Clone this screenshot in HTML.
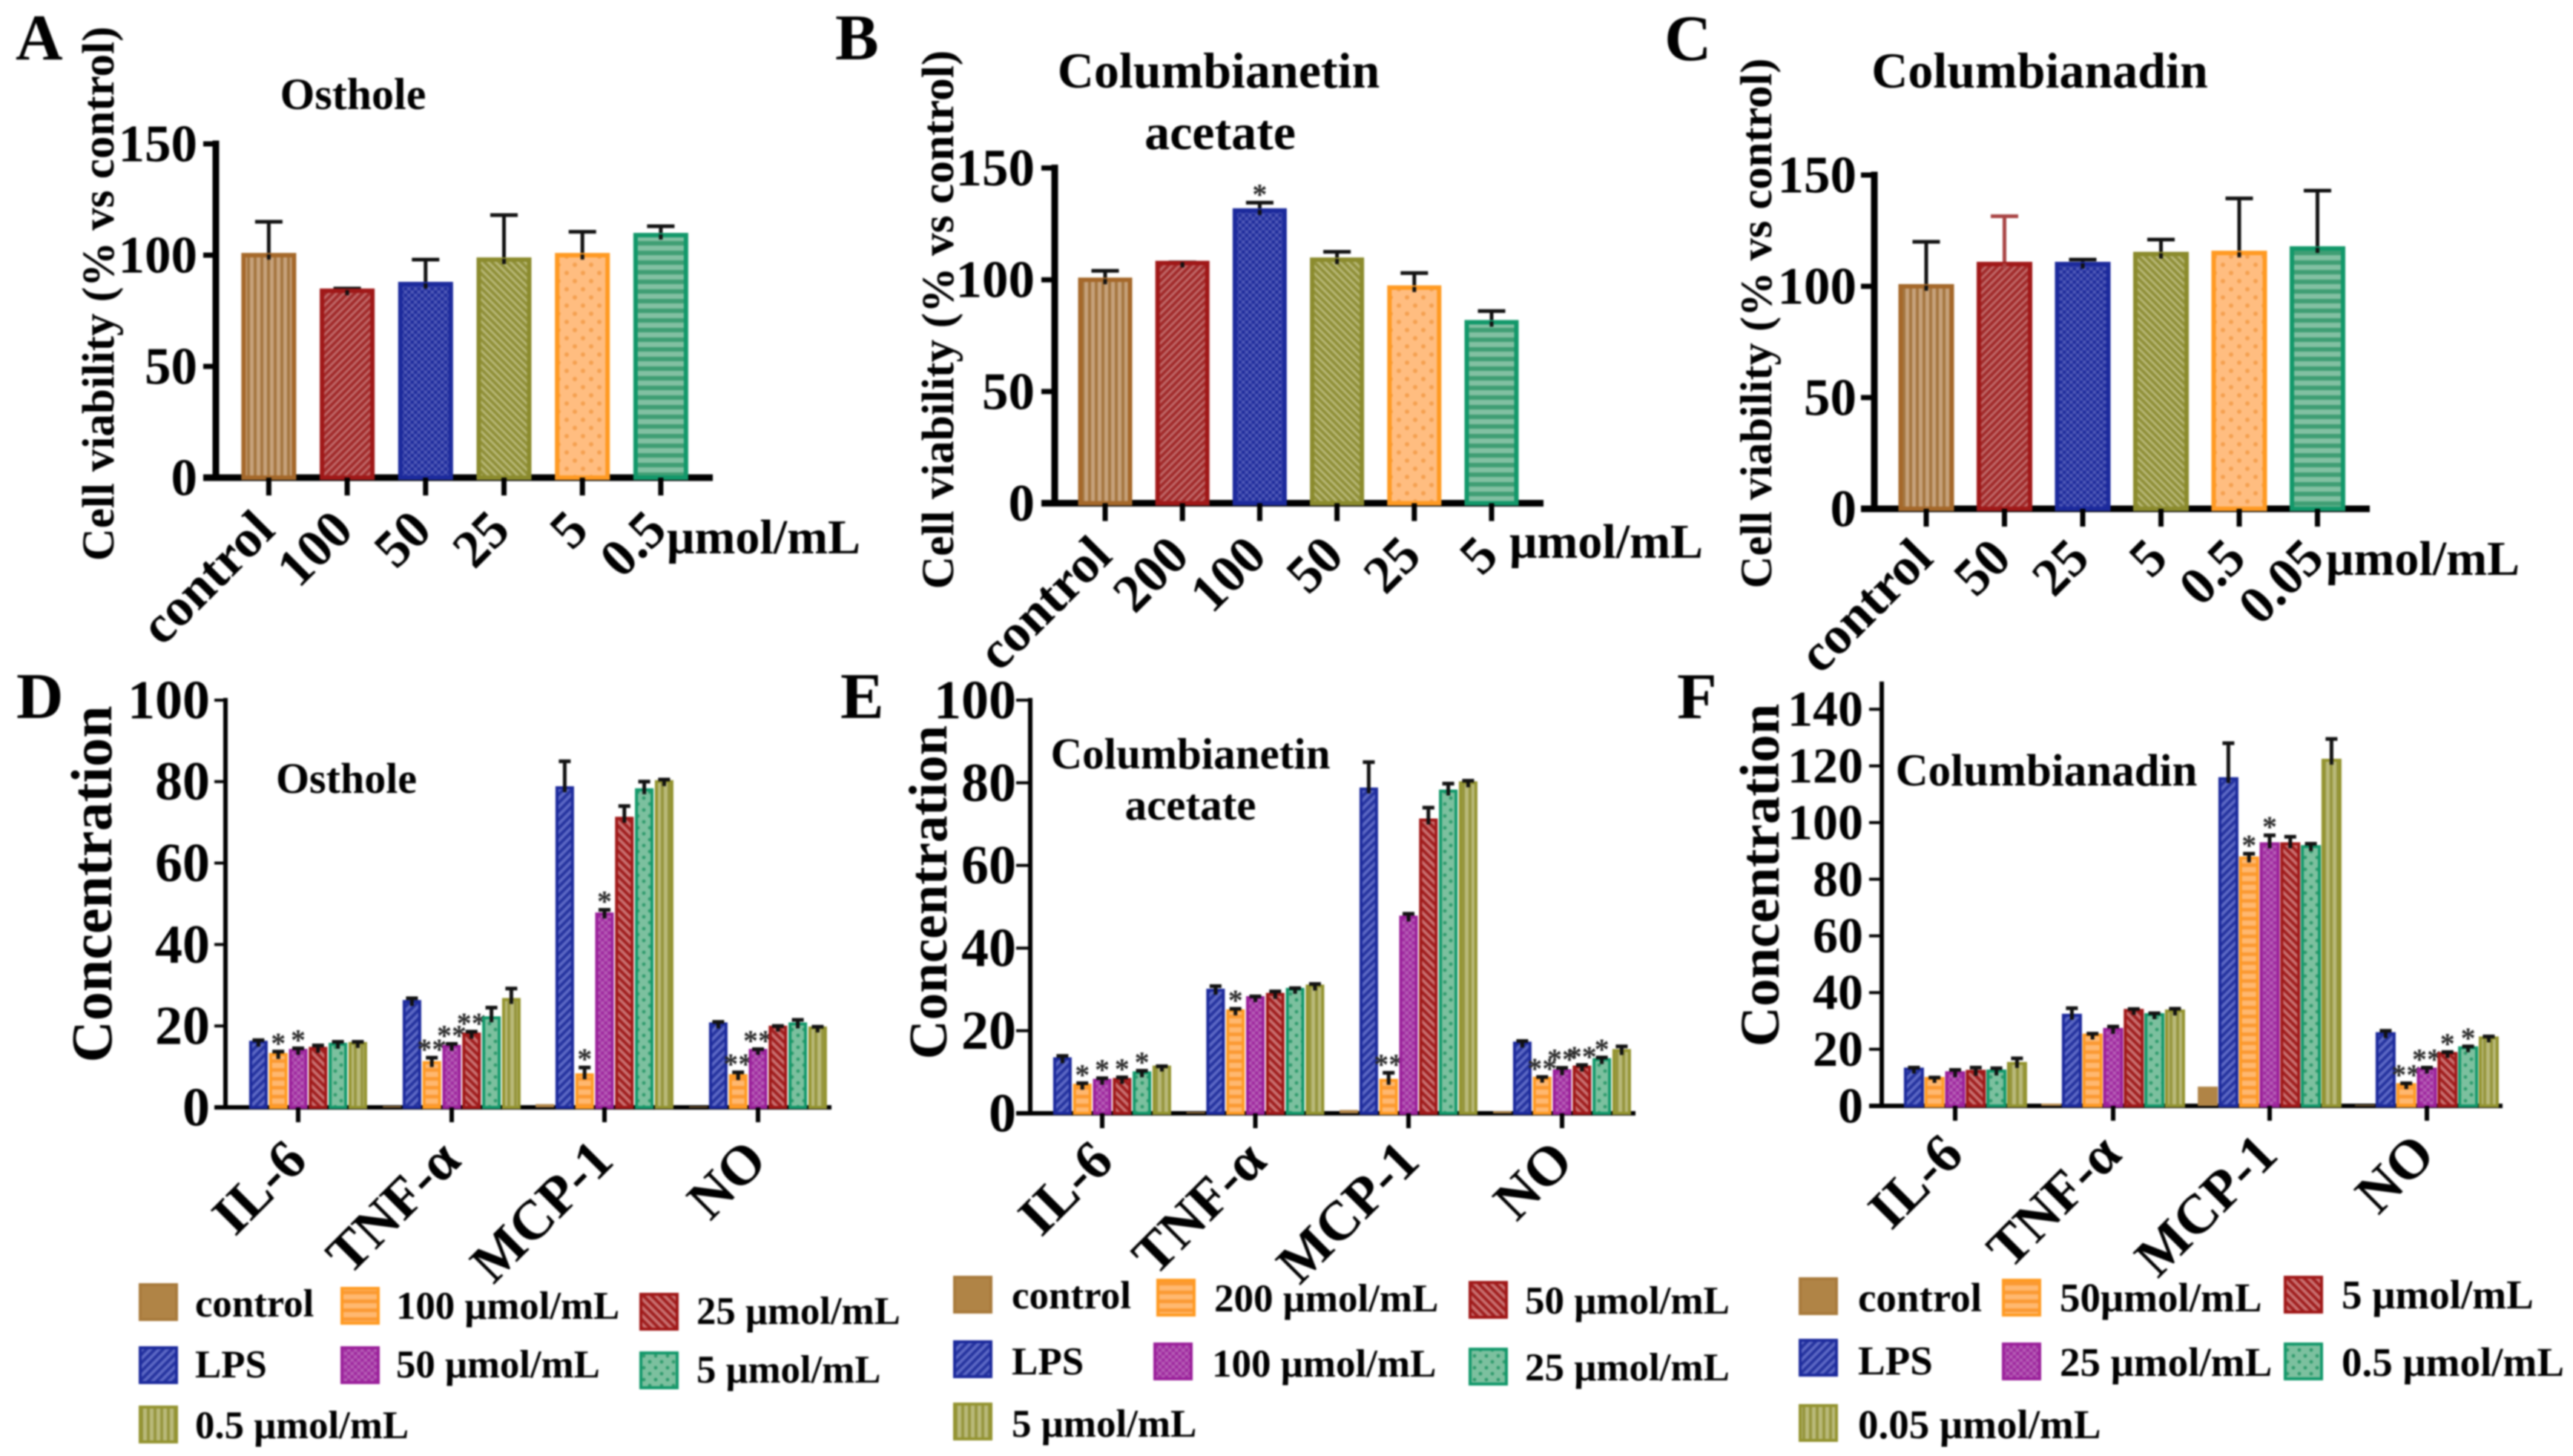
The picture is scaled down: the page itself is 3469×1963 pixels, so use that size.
<!DOCTYPE html>
<html lang="en">
<head>
<meta charset="utf-8">
<title>Cell viability and cytokine concentration panels</title>
<style>
  html, body { margin: 0; padding: 0; background: #fff; }
  body { width: 3469px; height: 1963px; overflow: hidden; }
  #figure { display: block; filter: blur(1.1px); }
  text { font-family: "Liberation Serif", serif; font-weight: bold; fill: #000; }
</style>
</head>
<body>
<svg id="figure" xmlns="http://www.w3.org/2000/svg" width="3469" height="1963" viewBox="0 0 3469 1963">
  <defs>
    <pattern id="pBrownV" patternUnits="userSpaceOnUse" width="9" height="9"><rect width="9" height="9" fill="#c6a27c"/><rect width="4" height="9" fill="#a5763f"/></pattern>
    <pattern id="pRedD" patternUnits="userSpaceOnUse" width="7" height="7" patternTransform="rotate(45)"><rect width="7" height="7" fill="#c06a6a"/><rect width="4" height="7" fill="#a12a2a"/></pattern>
    <pattern id="pBlueC" patternUnits="userSpaceOnUse" width="9" height="9"><rect width="9" height="9" fill="#1f2c9c"/><rect width="4.5" height="4.5" fill="#4f59b6"/><rect x="4.5" y="4.5" width="4.5" height="4.5" fill="#4f59b6"/></pattern>
    <pattern id="pOliveD" patternUnits="userSpaceOnUse" width="7" height="7" patternTransform="rotate(-45)"><rect width="7" height="7" fill="#b8b878"/><rect width="4" height="7" fill="#8f8f38"/></pattern>
    <pattern id="pOrangeDots" patternUnits="userSpaceOnUse" width="22" height="22"><rect width="22" height="22" fill="#ffbd80"/><circle cx="5" cy="5" r="3" fill="#f5a050"/><circle cx="16" cy="16" r="3" fill="#f5a050"/></pattern>
    <pattern id="pGreenH" patternUnits="userSpaceOnUse" width="13" height="13"><rect width="13" height="13" fill="#82c0a2"/><rect width="13" height="6" fill="#3f9e74"/></pattern>
    <pattern id="pBlueD" patternUnits="userSpaceOnUse" width="8" height="8" patternTransform="rotate(45)"><rect width="8" height="8" fill="#5c68c4"/><rect width="4" height="8" fill="#26349f"/></pattern>
    <pattern id="pOrangeH" patternUnits="userSpaceOnUse" width="12" height="12"><rect width="12" height="12" fill="#ffb870"/><rect width="12" height="5" fill="#fb9a34"/></pattern>
    <pattern id="pPurpleC" patternUnits="userSpaceOnUse" width="9" height="9"><rect width="9" height="9" fill="#a02ba0"/><rect width="4.5" height="4.5" fill="#b55cb5"/><rect x="4.5" y="4.5" width="4.5" height="4.5" fill="#b55cb5"/></pattern>
    <pattern id="pRedL" patternUnits="userSpaceOnUse" width="8" height="8" patternTransform="rotate(-45)"><rect width="8" height="8" fill="#c87070"/><rect width="4" height="8" fill="#a01e1e"/></pattern>
    <pattern id="pGreenDots" patternUnits="userSpaceOnUse" width="16" height="16"><rect width="16" height="16" fill="#7cc09f"/><circle cx="4" cy="4" r="2.4" fill="#2f9a6c"/><circle cx="12" cy="12" r="2.4" fill="#2f9a6c"/></pattern>
    <pattern id="pOliveV" patternUnits="userSpaceOnUse" width="9" height="9"><rect width="9" height="9" fill="#b9b97a"/><rect width="4" height="9" fill="#96963f"/></pattern>
  </defs>
  <rect width="3469" height="1963" fill="#ffffff"/>
  <g id="stage"></g>
</svg>
<script>
// Axis tick labels
const viabilityTicks = [0, 50, 100, 150];
const concentrationTicks = [0, 20, 40, 60, 80, 100];
const concentrationTicksWide = [0, 20, 40, 60, 80, 100, 120, 140];

// Panel A: cell viability, osthole
const panelACategories = ['control', '100', '50', '25', '5', '0.5'];
const panelAValues = [100, 84, 87, 98, 100, 109];
const panelAErrors = [15, 1, 11, 20, 10.5, 4];
const panelAStars = ['', '', '', '', '', ''];

// Panel B: cell viability, columbianetin acetate
const panelBCategories = ['control', '200', '100', '50', '25', '5'];
const panelBValues = [100, 107.5, 131, 109, 96.5, 81];
const panelBErrors = [4, 0.3, 3.5, 3.5, 6.5, 5];
const panelBStars = ['', '', '*', '', '', ''];

// Panel C: cell viability, columbianadin
const panelCCategories = ['control', '50', '25', '5', '0.5', '0.05'];
const panelCValues = [100, 110, 110, 114.5, 115, 117];
const panelCErrors = [20, 21.5, 2, 6.5, 24.5, 26];
const panelCStars = ['', '', '', '', '', ''];

// Panels D-F share these groups; each array runs control, LPS, then five doses
const cytokineCategories = ['IL-6', 'TNF-α', 'MCP-1', 'NO'];

const panelDIL6 = [0, 16, 13, 14, 14.5, 15.5, 15.7];
const panelDTNF = [0.3, 26, 11, 15, 18, 22, 26.5];
const panelDMCP = [0.8, 78.5, 8, 47.5, 71, 78, 80];
const panelDNO = [0.2, 20.5, 7.8, 14, 19.7, 20.5, 19.5];
const panelDIL6Err = [0, 0.5, 0.7, 0.5, 0.7, 0.6, 0.4];
const panelDTNFErr = [0, 0.8, 1.2, 0.6, 0.6, 2.5, 2.7];
const panelDMCPErr = [0, 6.5, 1.8, 1, 3, 2, 0.5];
const panelDNOErr = [0, 0.5, 0.8, 0.3, 0.3, 1, 0.3];
const panelDIL6Stars = ['', '', '*', '*', '', '', ''];
const panelDTNFStars = ['', '', '**', '**', '**', '', ''];
const panelDMCPStars = ['', '', '*', '*', '', '', ''];
const panelDNOStars = ['', '', '**', '**', '', '', ''];

const panelEIL6 = [0, 13.2, 6.8, 8, 8.2, 9.8, 11.2];
const panelETNF = [0.3, 29.8, 24.8, 28, 28.8, 30, 30.8];
const panelEMCP = [0.8, 78.5, 8, 47.5, 71, 78, 80];
const panelENO = [0.5, 17, 8.5, 10.3, 11.2, 13, 15.2];
const panelEIL6Err = [0, 0.7, 0.5, 0.5, 0.5, 0.5, 0.2];
const panelETNFErr = [0, 1, 0.5, 0.3, 0.7, 0.3, 0.5];
const panelEMCPErr = [0, 6.5, 1.8, 0.8, 3, 1.8, 0.5];
const panelENOErr = [0, 0.5, 0.3, 0.7, 0.5, 0.5, 1];
const panelEIL6Stars = ['', '', '*', '*', '*', '*', ''];
const panelETNFStars = ['', '', '*', '', '', '', ''];
const panelEMCPStars = ['', '', '**', '', '', '', ''];
const panelENOStars = ['', '', '**', '**', '**', '*', ''];

const panelFIL6 = [0, 13, 9.7, 11.7, 12.2, 12.3, 15];
const panelFTNF = [0.8, 32, 25, 27, 33.7, 32.2, 33.5];
const panelFMCP = [6.8, 115.5, 87.5, 92.5, 92.5, 91.5, 122];
const panelFNO = [0.3, 25.5, 7.5, 13, 18.5, 20.5, 24];
const panelFIL6Err = [0, 0.5, 0.3, 1, 1.3, 1, 1.8];
const panelFTNFErr = [0, 2.5, 0.5, 1, 0.5, 0.5, 0.8];
const panelFMCPErr = [0, 12.5, 1.5, 3, 2.5, 1, 7.5];
const panelFNOErr = [0, 1, 0.5, 0.5, 0.5, 0.5, 0.5];
const panelFIL6Stars = ['', '', '', '', '', '', ''];
const panelFTNFStars = ['', '', '', '', '', '', ''];
const panelFMCPStars = ['', '', '*', '*', '', '', ''];
const panelFNOStars = ['', '', '**', '**', '*', '*', ''];

const SVGNS = 'http://www.w3.org/2000/svg';
const stage = document.getElementById('stage');

function shape(tag, parent, name, interact) {
  const el = document.createElementNS(SVGNS, tag);
  
  
  parent.appendChild(el);
  return el;
}
function rect(parent, name, x, y, w, h, fill, stroke, sw) {
  const el = shape('rect', parent, name, false);
  el.setAttribute('x', x); el.setAttribute('y', y);
  el.setAttribute('width', w); el.setAttribute('height', h);
  el.setAttribute('fill', fill);
  if (stroke) { el.setAttribute('stroke', stroke); el.setAttribute('stroke-width', sw); }
  return el;
}
function line(parent, name, x1, y1, x2, y2, color, sw) {
  const el = shape('line', parent, name, false);
  el.setAttribute('x1', x1); el.setAttribute('y1', y1);
  el.setAttribute('x2', x2); el.setAttribute('y2', y2);
  el.setAttribute('stroke', color); el.setAttribute('stroke-width', sw);
  return el;
}
function label(parent, name, str, x, y, size, anchor, rot) {
  const el = shape('text', parent, name, false);
  el.textContent = str;
  el.setAttribute('font-size', size);
  el.setAttribute('text-anchor', anchor || 'start');
  el.setAttribute('transform', 'translate(' + x + ',' + y + ')' + (rot ? ' rotate(' + rot + ')' : ''));
  return el;
}

function drawAxes(g, f, ticks) {
  const yOf = v => f.base - (v - 0) * f.pxPerUnit;
  line(g, 'y-axis', f.axisX, yOf(f.yMax) - f.lw / 2, f.axisX, f.base + f.lw / 2, '#000', f.lw);
  line(g, 'x-axis', f.xStart, f.base, f.xEnd, f.base, '#000', f.lw);
  ticks.forEach(t => {
    line(g, 'y-tick', f.xStart, yOf(t), f.axisX, yOf(t), '#000', f.lw - 2);
    label(g, 'y-tick-label', String(t), f.tickRight, yOf(t) + f.tickSize * 0.33, f.tickSize, 'end');
  });
  return yOf;
}
function drawError(g, cx, yVal, yTop, capW, color, lw) {
  line(g, 'error-bar', cx, yVal + 6, cx, yTop, color, lw);
  line(g, 'error-cap', cx - capW / 2, yTop, cx + capW / 2, yTop, color, lw);
}
function drawStars(g, cx, yTop, str) {
  if (!str) return;
  const el = label(g, 'significance-marker', str, cx, yTop + 2, 40, 'middle');
  el.style.fill = '#2a2a2a';
}

const simpleFills = [
  { fill: 'url(#pBrownV)', stroke: '#a5682a', err: '#111' },
  { fill: 'url(#pRedD)', stroke: '#a01818', err: '#111' },
  { fill: 'url(#pBlueC)', stroke: '#1c2a9c', err: '#111' },
  { fill: 'url(#pOliveD)', stroke: '#8b8b2d', err: '#111' },
  { fill: 'url(#pOrangeDots)', stroke: '#ff9a22', err: '#111' },
  { fill: 'url(#pGreenH)', stroke: '#12986a', err: '#111' }
];
const groupFills = [
  { fill: '#b08446', stroke: '#a87a3c' },
  { fill: 'url(#pBlueD)', stroke: '#1c2a9c' },
  { fill: 'url(#pOrangeH)', stroke: '#ff9a22' },
  { fill: 'url(#pPurpleC)', stroke: '#9a209a' },
  { fill: 'url(#pRedL)', stroke: '#a01818' },
  { fill: 'url(#pGreenDots)', stroke: '#12986a' },
  { fill: 'url(#pOliveV)', stroke: '#93932f' }
];

function simplePanel(id, f, cats, vals, errs, stars) {
  const g = shape('g', stage, 'panel-' + id, false);
  const yOf = drawAxes(g, f, viabilityTicks);
  const xOf = i => f.first + i * f.step;
  vals.forEach((v, i) => {
    const st = simpleFills[i];
    const cx = xOf(i);
    const top = yOf(v);
    const errColor = (f.redErrIndex === i) ? '#a84444' : st.err;
    drawError(g, cx, top, yOf(v + errs[i]), 37, errColor, 5);
    rect(g, 'bar-' + cats[i], cx - f.barW / 2, top, f.barW, f.base - top, st.fill, st.stroke, 6);
    line(g, 'error-bar-root', cx, top - 1, cx, top + 6, errColor, 5);
    line(g, 'x-tick', cx, f.base, cx, f.base + 24, '#000', f.lw - 2);
    drawStars(g, cx, yOf(v + errs[i]), stars[i]);
    label(g, 'x-tick-label', cats[i], cx + f.lblDx, f.base + f.lblDy, f.lblSize, 'end', -45);
  });
  label(g, 'unit-label', 'μmol/mL', f.unitX, f.unitY, f.unitSize, 'start');
}
function groupPanel(id, f, ticks, groups, errors, stars) {
  const g = shape('g', stage, 'panel-' + id, false);
  const yOf = drawAxes(g, f, ticks);
  groups.forEach((vals, k) => {
    const center = f.groupX[k];
    vals.forEach((v, i) => {
      if (v <= 0) return;
      const st = groupFills[i];
      const cx = center + (i - 3) * f.step;
      const top = yOf(v);
      const yTop = yOf(v + errors[k][i]);
      if (i === 0) {
        rect(g, 'bar-' + cytokineCategories[k] + '-series-' + i, cx - f.barW / 2 - 2, top, f.barW + 4, f.base - top, st.fill);
      } else {
        rect(g, 'bar-' + cytokineCategories[k] + '-series-' + i, cx - f.barW / 2, top, f.barW, f.base - top, st.fill, st.stroke, 4);
      }
      if (errors[k][i] > 0) {
        drawError(g, cx, top, yTop, 16, '#111', 5);
      }
      drawStars(g, cx, errors[k][i] > 0 ? yTop : top, stars[k][i]);
    });
    line(g, 'x-tick', center, f.base, center, f.base + 20, '#000', f.lw);
    label(g, 'x-tick-label', cytokineCategories[k], center + f.lblDx, f.base + f.lblDy, 75, 'end', -45);
  });
}
function legendEntry(parent, text, styleIndex, sx, sy, tx, ty, size) {
  const st = groupFills[styleIndex];
  const g = shape('g', parent, 'legend-entry', false);
  rect(g, 'legend-swatch', sx + 2, sy + 2, 49, 47, st.fill, st.stroke, 4);
  label(g, 'legend-label', text, tx, ty, size, 'start');
}

// ---------- panel letters and titles ----------
const titles = shape('g', stage, 'panel-headings', false);
label(titles, 'panel-letter-a', 'A', 21, 80, 88);
label(titles, 'panel-letter-b', 'B', 1126, 80, 88);
label(titles, 'panel-letter-c', 'C', 2244, 81, 88);
label(titles, 'panel-letter-d', 'D', 22, 968, 88);
label(titles, 'panel-letter-e', 'E', 1133, 968, 88);
label(titles, 'panel-letter-f', 'F', 2261, 968, 88);
label(titles, 'panel-title-a', 'Osthole', 476, 147, 60, 'middle');
label(titles, 'panel-title-b-line-1', 'Columbianetin', 1643, 118, 68, 'middle');
label(titles, 'panel-title-b-line-2', 'acetate', 1645, 201, 68, 'middle');
label(titles, 'panel-title-c', 'Columbianadin', 2750, 118, 68, 'middle');
label(titles, 'panel-title-d', 'Osthole', 467, 1069, 58, 'middle');
label(titles, 'panel-title-e-line-1', 'Columbianetin', 1605, 1036, 59, 'middle');
label(titles, 'panel-title-e-line-2', 'acetate', 1605, 1105, 59, 'middle');
label(titles, 'panel-title-f', 'Columbianadin', 2759, 1059, 61, 'middle');
label(titles, 'y-axis-title-a', 'Cell viability (% vs control)', 153, 396, 61, 'middle', -90);
label(titles, 'y-axis-title-b', 'Cell viability (% vs control)', 1285, 431, 61.5, 'middle', -90);
label(titles, 'y-axis-title-c', 'Cell viability (% vs control)', 2388, 436, 60.5, 'middle', -90);
label(titles, 'y-axis-title-d', 'Concentration', 150, 1192, 78, 'middle', -90);
label(titles, 'y-axis-title-e', 'Concentration', 1276, 1203, 73, 'middle', -90);
label(titles, 'y-axis-title-f', 'Concentration', 2398, 1180, 75, 'middle', -90);

// ---------- top row ----------
simplePanel('a', { axisX: 291, xStart: 274, xEnd: 961, base: 644, pxPerUnit: 3.0, yMax: 150, lw: 9, tickRight: 266, tickSize: 71,
  first: 362.4, step: 105.7, barW: 68, lblDx: 11, lblDy: 74, lblSize: 72, unitX: 899, unitY: 746, unitSize: 66 },
  panelACategories, panelAValues, panelAErrors, panelAStars);
simplePanel('b', { axisX: 1422, xStart: 1404, xEnd: 2081, base: 678.5, pxPerUnit: 3.013, yMax: 150, lw: 9, tickRight: 1395, tickSize: 71,
  first: 1490, step: 104.2, barW: 67, lblDx: 12, lblDy: 74, lblSize: 72, unitX: 2035, unitY: 752, unitSize: 66 },
  panelBCategories, panelBValues, panelBErrors, panelBStars);
simplePanel('c', { axisX: 2527, xStart: 2509, xEnd: 3195, base: 686, pxPerUnit: 3.0, yMax: 150, lw: 9, tickRight: 2503, tickSize: 71, redErrIndex: 1,
  first: 2597, step: 105.5, barW: 69, lblDx: 12, lblDy: 70, lblSize: 72, unitX: 3136, unitY: 775, unitSize: 66 },
  panelCCategories, panelCValues, panelCErrors, panelCStars);

// ---------- bottom row ----------
groupPanel('d', { axisX: 304, xStart: 289, xEnd: 1121, base: 1493, pxPerUnit: 5.49, yMax: 100, lw: 6, tickRight: 283, tickSize: 74,
  groupX: [402, 609, 815, 1022], step: 26.8, barW: 21, lblDx: 15, lblDy: 75 },
  concentrationTicks,
  [panelDIL6, panelDTNF, panelDMCP, panelDNO],
  [panelDIL6Err, panelDTNFErr, panelDMCPErr, panelDNOErr],
  [panelDIL6Stars, panelDTNFStars, panelDMCPStars, panelDNOStars]);
groupPanel('e', { axisX: 1389, xStart: 1370, xEnd: 2205, base: 1501, pxPerUnit: 5.57, yMax: 100, lw: 6, tickRight: 1370, tickSize: 74,
  groupX: [1486, 1692.5, 1899, 2106], step: 26.8, barW: 21, lblDx: 18, lblDy: 68 },
  concentrationTicks,
  [panelEIL6, panelETNF, panelEMCP, panelENO],
  [panelEIL6Err, panelETNFErr, panelEMCPErr, panelENOErr],
  [panelEIL6Stars, panelETNFStars, panelEMCPStars, panelENOStars]);
groupPanel('f', { axisX: 2537, xStart: 2520, xEnd: 3374, base: 1491, pxPerUnit: 3.82, yMax: 149, lw: 6, tickRight: 2512, tickSize: 68,
  groupX: [2636, 2849, 3060, 3272], step: 27.8, barW: 23, lblDx: 14, lblDy: 69 },
  concentrationTicksWide,
  [panelFIL6, panelFTNF, panelFMCP, panelFNO],
  [panelFIL6Err, panelFTNFErr, panelFMCPErr, panelFNOErr],
  [panelFIL6Stars, panelFTNFStars, panelFMCPStars, panelFNOStars]);

// ---------- legends ----------
const legD = shape('g', stage, 'legend-d', false);
legendEntry(legD, 'control', 0, 187, 1730, 263, 1775, 52.8);
legendEntry(legD, 'LPS', 1, 187, 1815, 263, 1857, 52.8);
legendEntry(legD, '0.5 μmol/mL', 6, 187, 1895, 263, 1939, 52.8);
legendEntry(legD, '100 μmol/mL', 2, 459, 1735, 534, 1778, 52.8);
legendEntry(legD, '50 μmol/mL', 3, 459, 1815, 534, 1857, 52.8);
legendEntry(legD, '25 μmol/mL', 4, 862, 1743, 939, 1785, 52.8);
legendEntry(legD, '5 μmol/mL', 5, 862, 1822, 939, 1864, 52.8);

const legE = shape('g', stage, 'legend-e', false);
legendEntry(legE, 'control', 0, 1285, 1720, 1364, 1764, 53);
legendEntry(legE, 'LPS', 1, 1285, 1807, 1364, 1853, 53);
legendEntry(legE, '5 μmol/mL', 6, 1285, 1891, 1364, 1937, 53);
legendEntry(legE, '200 μmol/mL', 2, 1559, 1724, 1637, 1768, 53);
legendEntry(legE, '100 μmol/mL', 3, 1555, 1810, 1634, 1856, 53);
legendEntry(legE, '50 μmol/mL', 4, 1980, 1727, 2056, 1771, 53);
legendEntry(legE, '25 μmol/mL', 5, 1980, 1817, 2056, 1861, 53);

const legF = shape('g', stage, 'legend-f', false);
legendEntry(legF, 'control', 0, 2425, 1722, 2505, 1768, 55);
legendEntry(legF, 'LPS', 1, 2425, 1805, 2505, 1853, 55);
legendEntry(legF, '0.05 μmol/mL', 6, 2425, 1893, 2505, 1939, 55);
legendEntry(legF, '50μmol/mL', 2, 2699, 1724, 2777, 1768, 55);
legendEntry(legF, '25 μmol/mL', 3, 2699, 1810, 2777, 1855, 55);
legendEntry(legF, '5 μmol/mL', 4, 3079, 1720, 3157, 1764, 55);
legendEntry(legF, '0.5 μmol/mL', 5, 3079, 1810, 3157, 1855, 55);
</script>
</body>
</html>
